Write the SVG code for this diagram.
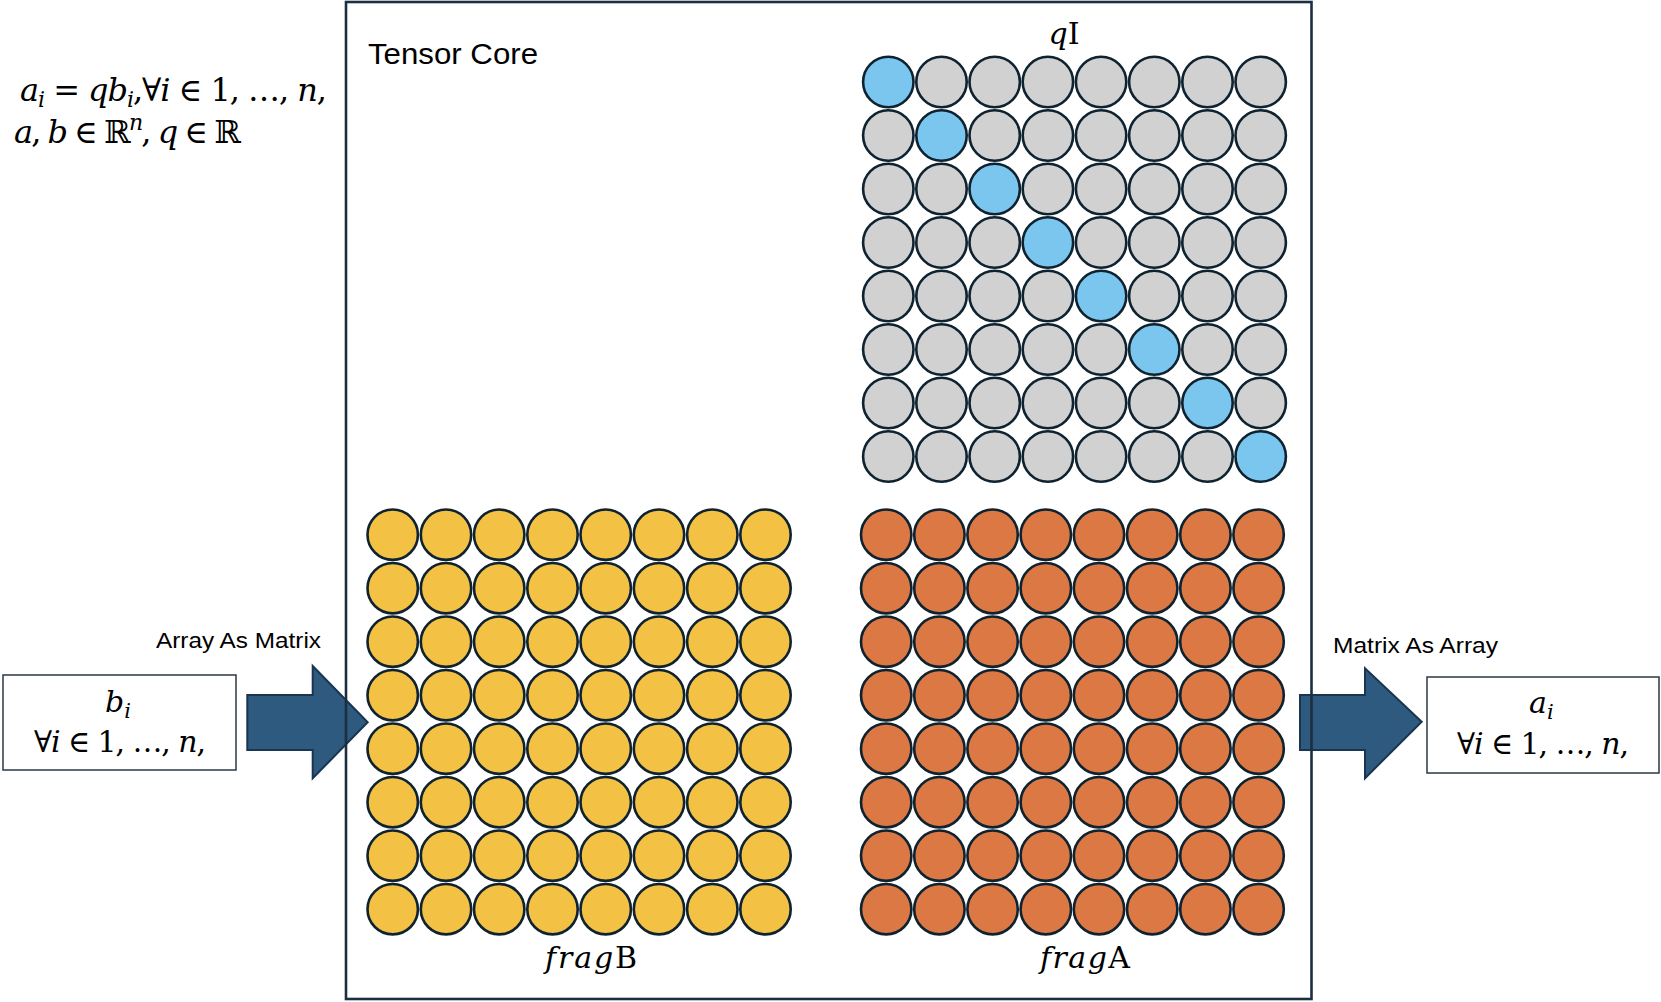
<svg xmlns="http://www.w3.org/2000/svg" width="1661" height="1002" viewBox="0 0 1661 1002">
<style>
.sans{font-family:"Liberation Sans",Arial,sans-serif;fill:#000}
.math{font-family:"DejaVu Serif","Liberation Serif",serif;fill:#000}
.it{font-style:italic}
.c{stroke:#0F2230;stroke-width:2.6}
.y{fill:#F3C143}
.o{fill:#DB7843}
.g{fill:#D1D1D1}
.b{fill:#7AC6EE}
.arrow{fill:#2D5A7E;stroke:#1A3550;stroke-width:2}
.box{fill:#fff;stroke:#2A3845;stroke-width:1.5}
</style>
<rect x="0" y="0" width="1661" height="1002" fill="#fff"/>

<g id="formula">
<text class="math" x="20" y="101" font-size="32" textLength="307" lengthAdjust="spacing"><tspan class="it">a</tspan><tspan class="it" font-size="22" dy="6">i</tspan><tspan dy="-6"> = </tspan><tspan class="it">qb</tspan><tspan class="it" font-size="22" dy="6">i</tspan><tspan dy="-6">,∀</tspan><tspan class="it">i</tspan><tspan> ∈ 1, …, </tspan><tspan class="it">n</tspan><tspan>,</tspan></text>
<text class="math" x="14" y="142.5" font-size="32" textLength="227" lengthAdjust="spacing"><tspan class="it">a</tspan><tspan>, </tspan><tspan class="it">b</tspan><tspan> ∈ ℝ</tspan><tspan class="it" font-size="22" dy="-13">n</tspan><tspan dy="13">, </tspan><tspan class="it">q</tspan><tspan> ∈ ℝ</tspan></text>
</g>

<g id="input-b">
<rect class="box" x="3" y="675" width="233" height="95"/>
<text class="math" x="105" y="712" font-size="30"><tspan class="it">b</tspan><tspan class="it" font-size="21" dy="6">i</tspan></text>
<text class="math" x="34" y="752" font-size="30" textLength="172" lengthAdjust="spacing"><tspan>∀</tspan><tspan class="it">i</tspan><tspan> ∈ 1, …, </tspan><tspan class="it">n</tspan><tspan>,</tspan></text>
</g>

<g id="output-a">
<rect class="box" x="1427" y="677" width="232" height="96"/>
<text class="math" x="1529" y="713" font-size="30"><tspan class="it">a</tspan><tspan class="it" font-size="21" dy="6">i</tspan></text>
<text class="math" x="1457" y="754" font-size="30" textLength="172" lengthAdjust="spacing"><tspan>∀</tspan><tspan class="it">i</tspan><tspan> ∈ 1, …, </tspan><tspan class="it">n</tspan><tspan>,</tspan></text>
</g>

<g id="connectors">
<g id="arrow-in">
<polygon class="arrow" points="247.3,695 312.7,695 312.7,666 367.7,722.3 312.7,778.3 312.7,750 247.3,750"/>
<text class="sans" x="156" y="648" font-size="21.5" textLength="165" lengthAdjust="spacingAndGlyphs">Array As Matrix</text>
</g>
<g id="arrow-out">
<polygon class="arrow" points="1300,695 1365,695 1365,668.3 1421.7,721.7 1365,778.3 1365,750 1300,750"/>
<text class="sans" x="1333" y="653" font-size="21.5" textLength="165" lengthAdjust="spacingAndGlyphs">Matrix As Array</text>
</g>
</g>

<g id="tensor-core">
<rect x="346" y="2" width="965.5" height="997" fill="none" stroke="#1C2F40" stroke-width="2.6"/>
<text class="sans" x="368" y="64" font-size="30" textLength="170" lengthAdjust="spacingAndGlyphs">Tensor Core</text>
</g>

<g id="qI">
<text class="math" x="1064" y="44" font-size="30" text-anchor="middle"><tspan class="it">q</tspan><tspan>I</tspan></text>
<circle class="c b" cx="888.3" cy="82" r="25.2"/><circle class="c g" cx="941.5" cy="82" r="25.2"/><circle class="c g" cx="994.7" cy="82" r="25.2"/><circle class="c g" cx="1047.9" cy="82" r="25.2"/><circle class="c g" cx="1101.1" cy="82" r="25.2"/><circle class="c g" cx="1154.3" cy="82" r="25.2"/><circle class="c g" cx="1207.5" cy="82" r="25.2"/><circle class="c g" cx="1260.7" cy="82" r="25.2"/>
<circle class="c g" cx="888.3" cy="135.5" r="25.2"/><circle class="c b" cx="941.5" cy="135.5" r="25.2"/><circle class="c g" cx="994.7" cy="135.5" r="25.2"/><circle class="c g" cx="1047.9" cy="135.5" r="25.2"/><circle class="c g" cx="1101.1" cy="135.5" r="25.2"/><circle class="c g" cx="1154.3" cy="135.5" r="25.2"/><circle class="c g" cx="1207.5" cy="135.5" r="25.2"/><circle class="c g" cx="1260.7" cy="135.5" r="25.2"/>
<circle class="c g" cx="888.3" cy="189" r="25.2"/><circle class="c g" cx="941.5" cy="189" r="25.2"/><circle class="c b" cx="994.7" cy="189" r="25.2"/><circle class="c g" cx="1047.9" cy="189" r="25.2"/><circle class="c g" cx="1101.1" cy="189" r="25.2"/><circle class="c g" cx="1154.3" cy="189" r="25.2"/><circle class="c g" cx="1207.5" cy="189" r="25.2"/><circle class="c g" cx="1260.7" cy="189" r="25.2"/>
<circle class="c g" cx="888.3" cy="242.5" r="25.2"/><circle class="c g" cx="941.5" cy="242.5" r="25.2"/><circle class="c g" cx="994.7" cy="242.5" r="25.2"/><circle class="c b" cx="1047.9" cy="242.5" r="25.2"/><circle class="c g" cx="1101.1" cy="242.5" r="25.2"/><circle class="c g" cx="1154.3" cy="242.5" r="25.2"/><circle class="c g" cx="1207.5" cy="242.5" r="25.2"/><circle class="c g" cx="1260.7" cy="242.5" r="25.2"/>
<circle class="c g" cx="888.3" cy="296" r="25.2"/><circle class="c g" cx="941.5" cy="296" r="25.2"/><circle class="c g" cx="994.7" cy="296" r="25.2"/><circle class="c g" cx="1047.9" cy="296" r="25.2"/><circle class="c b" cx="1101.1" cy="296" r="25.2"/><circle class="c g" cx="1154.3" cy="296" r="25.2"/><circle class="c g" cx="1207.5" cy="296" r="25.2"/><circle class="c g" cx="1260.7" cy="296" r="25.2"/>
<circle class="c g" cx="888.3" cy="349.5" r="25.2"/><circle class="c g" cx="941.5" cy="349.5" r="25.2"/><circle class="c g" cx="994.7" cy="349.5" r="25.2"/><circle class="c g" cx="1047.9" cy="349.5" r="25.2"/><circle class="c g" cx="1101.1" cy="349.5" r="25.2"/><circle class="c b" cx="1154.3" cy="349.5" r="25.2"/><circle class="c g" cx="1207.5" cy="349.5" r="25.2"/><circle class="c g" cx="1260.7" cy="349.5" r="25.2"/>
<circle class="c g" cx="888.3" cy="403" r="25.2"/><circle class="c g" cx="941.5" cy="403" r="25.2"/><circle class="c g" cx="994.7" cy="403" r="25.2"/><circle class="c g" cx="1047.9" cy="403" r="25.2"/><circle class="c g" cx="1101.1" cy="403" r="25.2"/><circle class="c g" cx="1154.3" cy="403" r="25.2"/><circle class="c b" cx="1207.5" cy="403" r="25.2"/><circle class="c g" cx="1260.7" cy="403" r="25.2"/>
<circle class="c g" cx="888.3" cy="456.5" r="25.2"/><circle class="c g" cx="941.5" cy="456.5" r="25.2"/><circle class="c g" cx="994.7" cy="456.5" r="25.2"/><circle class="c g" cx="1047.9" cy="456.5" r="25.2"/><circle class="c g" cx="1101.1" cy="456.5" r="25.2"/><circle class="c g" cx="1154.3" cy="456.5" r="25.2"/><circle class="c g" cx="1207.5" cy="456.5" r="25.2"/><circle class="c b" cx="1260.7" cy="456.5" r="25.2"/>
</g>

<g id="fragB">
<g class="c y">
<circle cx="392.7" cy="534.7" r="25.2"/><circle cx="446" cy="534.7" r="25.2"/><circle cx="499.2" cy="534.7" r="25.2"/><circle cx="552.5" cy="534.7" r="25.2"/><circle cx="605.7" cy="534.7" r="25.2"/><circle cx="659" cy="534.7" r="25.2"/><circle cx="712.3" cy="534.7" r="25.2"/><circle cx="765.5" cy="534.7" r="25.2"/>
<circle cx="392.7" cy="588.2" r="25.2"/><circle cx="446" cy="588.2" r="25.2"/><circle cx="499.2" cy="588.2" r="25.2"/><circle cx="552.5" cy="588.2" r="25.2"/><circle cx="605.7" cy="588.2" r="25.2"/><circle cx="659" cy="588.2" r="25.2"/><circle cx="712.3" cy="588.2" r="25.2"/><circle cx="765.5" cy="588.2" r="25.2"/>
<circle cx="392.7" cy="641.7" r="25.2"/><circle cx="446" cy="641.7" r="25.2"/><circle cx="499.2" cy="641.7" r="25.2"/><circle cx="552.5" cy="641.7" r="25.2"/><circle cx="605.7" cy="641.7" r="25.2"/><circle cx="659" cy="641.7" r="25.2"/><circle cx="712.3" cy="641.7" r="25.2"/><circle cx="765.5" cy="641.7" r="25.2"/>
<circle cx="392.7" cy="695.2" r="25.2"/><circle cx="446" cy="695.2" r="25.2"/><circle cx="499.2" cy="695.2" r="25.2"/><circle cx="552.5" cy="695.2" r="25.2"/><circle cx="605.7" cy="695.2" r="25.2"/><circle cx="659" cy="695.2" r="25.2"/><circle cx="712.3" cy="695.2" r="25.2"/><circle cx="765.5" cy="695.2" r="25.2"/>
<circle cx="392.7" cy="748.7" r="25.2"/><circle cx="446" cy="748.7" r="25.2"/><circle cx="499.2" cy="748.7" r="25.2"/><circle cx="552.5" cy="748.7" r="25.2"/><circle cx="605.7" cy="748.7" r="25.2"/><circle cx="659" cy="748.7" r="25.2"/><circle cx="712.3" cy="748.7" r="25.2"/><circle cx="765.5" cy="748.7" r="25.2"/>
<circle cx="392.7" cy="802.2" r="25.2"/><circle cx="446" cy="802.2" r="25.2"/><circle cx="499.2" cy="802.2" r="25.2"/><circle cx="552.5" cy="802.2" r="25.2"/><circle cx="605.7" cy="802.2" r="25.2"/><circle cx="659" cy="802.2" r="25.2"/><circle cx="712.3" cy="802.2" r="25.2"/><circle cx="765.5" cy="802.2" r="25.2"/>
<circle cx="392.7" cy="855.7" r="25.2"/><circle cx="446" cy="855.7" r="25.2"/><circle cx="499.2" cy="855.7" r="25.2"/><circle cx="552.5" cy="855.7" r="25.2"/><circle cx="605.7" cy="855.7" r="25.2"/><circle cx="659" cy="855.7" r="25.2"/><circle cx="712.3" cy="855.7" r="25.2"/><circle cx="765.5" cy="855.7" r="25.2"/>
<circle cx="392.7" cy="909.2" r="25.2"/><circle cx="446" cy="909.2" r="25.2"/><circle cx="499.2" cy="909.2" r="25.2"/><circle cx="552.5" cy="909.2" r="25.2"/><circle cx="605.7" cy="909.2" r="25.2"/><circle cx="659" cy="909.2" r="25.2"/><circle cx="712.3" cy="909.2" r="25.2"/><circle cx="765.5" cy="909.2" r="25.2"/>
</g>
<text class="math" x="545" y="968" font-size="30" textLength="92" lengthAdjust="spacing"><tspan class="it">frag</tspan><tspan>B</tspan></text>
</g>

<g id="fragA">
<g class="c o">
<circle cx="886.2" cy="534.7" r="25.2"/><circle cx="939.4" cy="534.7" r="25.2"/><circle cx="992.6" cy="534.7" r="25.2"/><circle cx="1045.8" cy="534.7" r="25.2"/><circle cx="1099" cy="534.7" r="25.2"/><circle cx="1152.2" cy="534.7" r="25.2"/><circle cx="1205.4" cy="534.7" r="25.2"/><circle cx="1258.6" cy="534.7" r="25.2"/>
<circle cx="886.2" cy="588.2" r="25.2"/><circle cx="939.4" cy="588.2" r="25.2"/><circle cx="992.6" cy="588.2" r="25.2"/><circle cx="1045.8" cy="588.2" r="25.2"/><circle cx="1099" cy="588.2" r="25.2"/><circle cx="1152.2" cy="588.2" r="25.2"/><circle cx="1205.4" cy="588.2" r="25.2"/><circle cx="1258.6" cy="588.2" r="25.2"/>
<circle cx="886.2" cy="641.7" r="25.2"/><circle cx="939.4" cy="641.7" r="25.2"/><circle cx="992.6" cy="641.7" r="25.2"/><circle cx="1045.8" cy="641.7" r="25.2"/><circle cx="1099" cy="641.7" r="25.2"/><circle cx="1152.2" cy="641.7" r="25.2"/><circle cx="1205.4" cy="641.7" r="25.2"/><circle cx="1258.6" cy="641.7" r="25.2"/>
<circle cx="886.2" cy="695.2" r="25.2"/><circle cx="939.4" cy="695.2" r="25.2"/><circle cx="992.6" cy="695.2" r="25.2"/><circle cx="1045.8" cy="695.2" r="25.2"/><circle cx="1099" cy="695.2" r="25.2"/><circle cx="1152.2" cy="695.2" r="25.2"/><circle cx="1205.4" cy="695.2" r="25.2"/><circle cx="1258.6" cy="695.2" r="25.2"/>
<circle cx="886.2" cy="748.7" r="25.2"/><circle cx="939.4" cy="748.7" r="25.2"/><circle cx="992.6" cy="748.7" r="25.2"/><circle cx="1045.8" cy="748.7" r="25.2"/><circle cx="1099" cy="748.7" r="25.2"/><circle cx="1152.2" cy="748.7" r="25.2"/><circle cx="1205.4" cy="748.7" r="25.2"/><circle cx="1258.6" cy="748.7" r="25.2"/>
<circle cx="886.2" cy="802.2" r="25.2"/><circle cx="939.4" cy="802.2" r="25.2"/><circle cx="992.6" cy="802.2" r="25.2"/><circle cx="1045.8" cy="802.2" r="25.2"/><circle cx="1099" cy="802.2" r="25.2"/><circle cx="1152.2" cy="802.2" r="25.2"/><circle cx="1205.4" cy="802.2" r="25.2"/><circle cx="1258.6" cy="802.2" r="25.2"/>
<circle cx="886.2" cy="855.7" r="25.2"/><circle cx="939.4" cy="855.7" r="25.2"/><circle cx="992.6" cy="855.7" r="25.2"/><circle cx="1045.8" cy="855.7" r="25.2"/><circle cx="1099" cy="855.7" r="25.2"/><circle cx="1152.2" cy="855.7" r="25.2"/><circle cx="1205.4" cy="855.7" r="25.2"/><circle cx="1258.6" cy="855.7" r="25.2"/>
<circle cx="886.2" cy="909.2" r="25.2"/><circle cx="939.4" cy="909.2" r="25.2"/><circle cx="992.6" cy="909.2" r="25.2"/><circle cx="1045.8" cy="909.2" r="25.2"/><circle cx="1099" cy="909.2" r="25.2"/><circle cx="1152.2" cy="909.2" r="25.2"/><circle cx="1205.4" cy="909.2" r="25.2"/><circle cx="1258.6" cy="909.2" r="25.2"/>
</g>
<text class="math" x="1040" y="968" font-size="30" textLength="90" lengthAdjust="spacing"><tspan class="it">frag</tspan><tspan>A</tspan></text>
</g>
</svg>
